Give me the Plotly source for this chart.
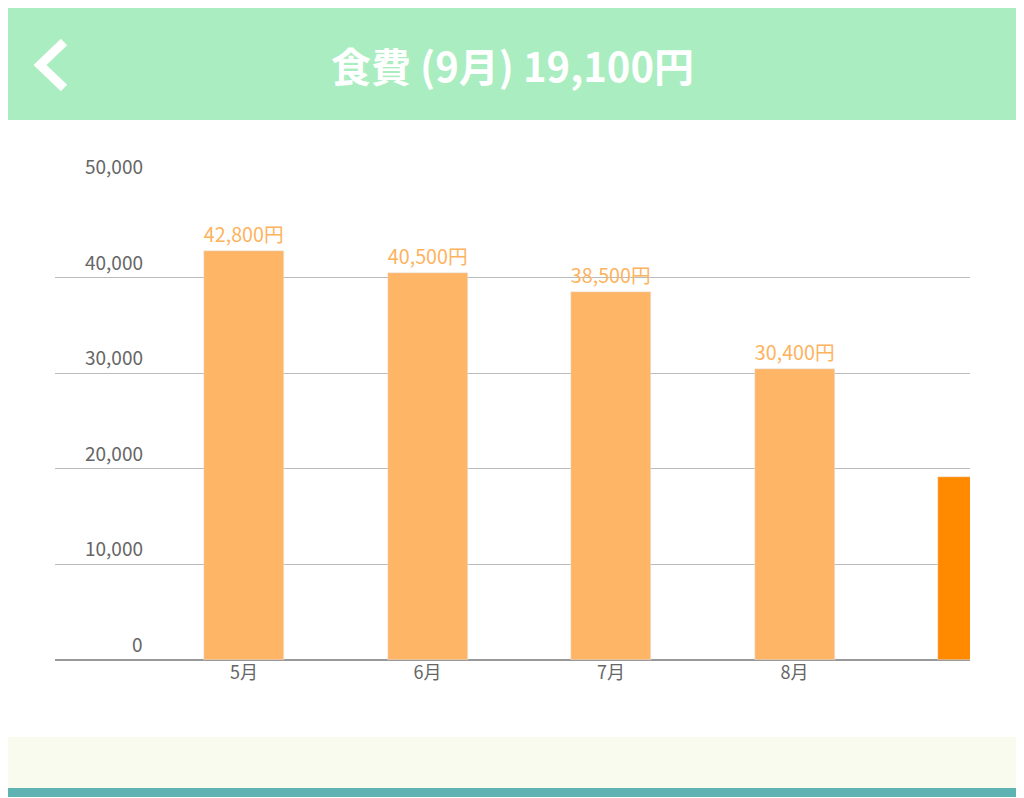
import plotly.graph_objects as go

months = ["5月", "6月", "7月", "8月", "9月"]
values = [42800, 40500, 38500, 30400, 19100]
bar_labels = ["42,800円", "40,500円", "38,500円", "30,400円", ""]
colors = ["#FFB566", "#FFB566", "#FFB566", "#FFB566", "#FF8A00"]
y_ticks = [0, 10000, 20000, 30000, 40000, 50000]
y_tick_text = ["0", "10,000", "20,000", "30,000", "40,000", "50,000"]
title = "食費 (9月) 19,100円"

O = 8  # page body margin offset
W, H = 1024 - O, 798 - O
L, R, T, B = 55 - O, 970 - O, 181 - O, 660 - O
def px(x): return (x - O - L) / (R - L)
def py(y): return (B - (y - O)) / (B - T)

fig = go.Figure(go.Bar(
    x=list(range(len(months))), y=values, marker_color=colors, width=0.436,
    text=bar_labels, textposition="outside", cliponaxis=False,
    textfont=dict(color="#FDB35E", size=21, family="Noto Sans CJK JP"),
))

shapes = [
    dict(type="rect", xref="paper", yref="paper", x0=px(0), x1=px(1100), y0=py(0), y1=py(120),
         fillcolor="#AAEDC0", line_width=0, layer="below"),
    dict(type="rect", xref="paper", yref="paper", x0=px(0), x1=px(1100), y0=py(737), y1=py(788),
         fillcolor="#FAFBEF", line_width=0, layer="below"),
    dict(type="rect", xref="paper", yref="paper", x0=px(0), x1=px(1100), y0=py(788), y1=py(797),
         fillcolor="#5FB3B3", line_width=0, layer="below"),
    dict(type="path", xref="paper", yref="paper",
         path=f"M {px(64)} {py(42)} L {px(40)} {py(65)} L {px(64)} {py(88)}",
         line=dict(color="white", width=9)),
]
annotations = [
    dict(text=f"<b>{title}</b>", xref="paper", yref="paper", x=px(512), y=py(65),
         xanchor="center", yanchor="middle",
         showarrow=False, font=dict(color="white", size=40, family="Noto Sans CJK JP")),
]
for v, t in zip(y_ticks, y_tick_text):
    annotations.append(dict(text=t, xref="paper", yref="y", x=px(145), y=v, xanchor="right",
                            yanchor="bottom", yshift=1, showarrow=False,
                            font=dict(color="#666666", size=19, family="Noto Sans CJK JP")))

fig.update_layout(
    width=W, height=H, margin=dict(l=L, r=W - R, t=T, b=H - B),
    paper_bgcolor="white", plot_bgcolor="white", showlegend=False,
    shapes=shapes, annotations=annotations, bargap=0,
    xaxis=dict(range=[-1.03, 3.956], tickvals=list(range(len(months))), ticktext=months,
               showgrid=False, zeroline=False, showline=False,
               tickfont=dict(color="#666666", size=18, family="Noto Sans CJK JP"), ticklen=0),
    yaxis=dict(range=[0, 50100], tickvals=y_ticks, showticklabels=False,
               gridcolor="#BBBBBB", gridwidth=1, zeroline=True, zerolinecolor="#999999",
               zerolinewidth=2),
)
fig.write_html("out.html")
